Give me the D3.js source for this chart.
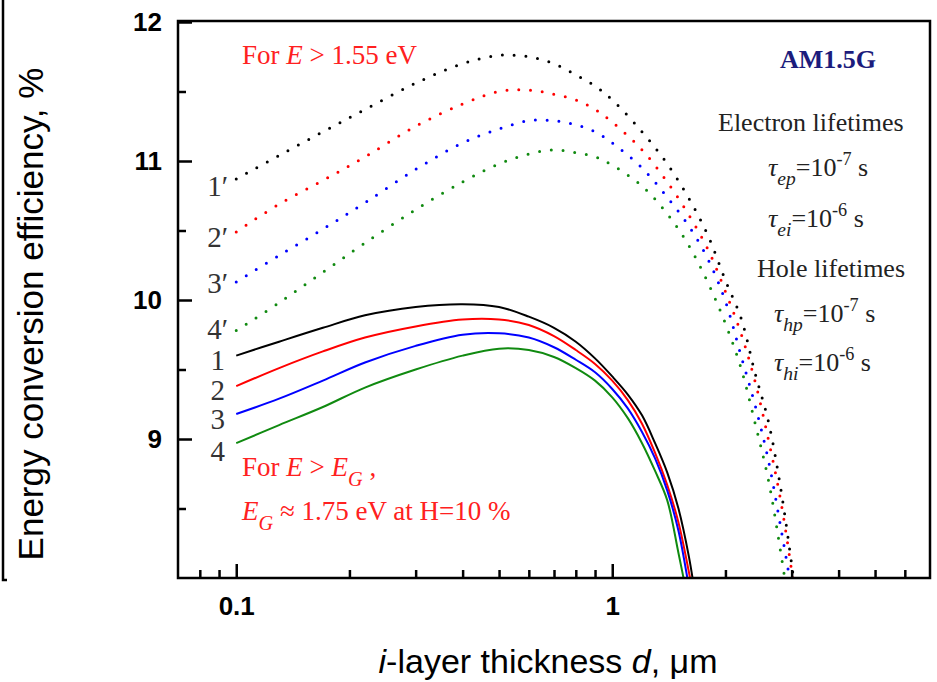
<!DOCTYPE html>
<html><head><meta charset="utf-8">
<script src="https://cdn.jsdelivr.net/npm/d3@7"></script>
<style>body{margin:0;background:#fff} svg{display:block}</style>
</head><body>
<svg id="c" width="937" height="682"></svg>
<script>
// ---------- data ----------
const solidX  = [0.1, 0.13, 0.17, 0.22, 0.3, 0.4, 0.5, 0.6, 0.7, 0.8, 0.9, 1.0, 1.1, 1.2, 1.3, 1.4, 1.5, 1.6, 1.65];
const solid1  = [9.60, 9.70, 9.80, 9.89, 9.95, 9.97, 9.95, 9.88, 9.80, 9.70, 9.58, 9.45, 9.32, 9.17, 8.97, 8.76, 8.50, 8.15, 7.93];
const solid2  = [9.38, 9.51, 9.63, 9.73, 9.81, 9.86, 9.86, 9.82, 9.74, 9.64, 9.54, 9.42, 9.28, 9.11, 8.90, 8.67, 8.40, 8.04, 7.85];
const solid3  = [9.18, 9.29, 9.42, 9.55, 9.67, 9.75, 9.76, 9.73, 9.66, 9.57, 9.48, 9.36, 9.22, 9.05, 8.86, 8.63, 8.34, 7.93, 7.70];
const solid4  = [8.97, 9.10, 9.23, 9.37, 9.50, 9.60, 9.65, 9.64, 9.59, 9.51, 9.42, 9.30, 9.15, 8.97, 8.77, 8.56, 8.18, 7.80, 7.60];

const dottedX = [0.1, 0.13, 0.17, 0.22, 0.3, 0.4, 0.5, 0.6, 0.7, 0.8, 0.9, 1.0, 1.2, 1.4, 1.6, 1.8, 2.0, 2.2, 2.4, 2.6, 2.8, 3.0, 3.1];
const dotted1 = [10.87, 11.04, 11.21, 11.37, 11.56, 11.70, 11.76, 11.75, 11.70, 11.62, 11.54, 11.44, 11.21, 10.98, 10.73, 10.46, 10.14, 9.87, 9.47, 9.13, 8.66, 8.10, 7.80];
const dotted2 = [10.49, 10.69, 10.86, 11.03, 11.25, 11.41, 11.50, 11.51, 11.48, 11.44, 11.37, 11.28, 11.08, 10.85, 10.61, 10.36, 10.06, 9.76, 9.41, 9.00, 8.57, 8.05, 7.75];
const dotted3 = [10.13, 10.32, 10.51, 10.70, 10.94, 11.13, 11.23, 11.29, 11.29, 11.26, 11.21, 11.13, 10.95, 10.74, 10.53, 10.29, 9.99, 9.60, 9.24, 8.85, 8.38, 7.90, 7.60];
const dotted4 = [9.78, 9.98, 10.20, 10.41, 10.65, 10.85, 10.98, 11.05, 11.08, 11.06, 11.03, 10.97, 10.82, 10.62, 10.39, 10.12, 9.83, 9.51, 9.11, 8.71, 8.20, 7.65, 7.30];

const seriesColors = ["#000000", "#ff0000", "#0000ff", "#108a10"];
const solidLabels  = ["1", "2", "3", "4"];
const dottedLabels = ["1\u2032", "2\u2032", "3\u2032", "4\u2032"];

const xMajorTicks = [0.1, 1];
const xMajorLabels = ["0.1", "1"];
const xMinorTicks = [0.08, 0.09, 0.2, 0.3, 0.4, 0.5, 0.6, 0.7, 0.8, 0.9, 2, 3, 4, 5, 6];
const yMajorTicks = [9, 10, 11, 12];
const yMinorTicks = [8.5, 9.5, 10.5, 11.5];

// ---------- layout ----------
const L = 178, R = 930, T = 22, B = 578;
const svg = d3.select("#c");
const x = d3.scaleLog().domain([0.07, 7]).range([L, R]);
const y = d3.scaleLinear().domain([8, 12]).range([B, T]);

const SERIF = "'Liberation Serif','Times New Roman',serif";
const SANS = "'Liberation Sans',Arial,sans-serif";

// left stray border line from the source page
svg.append("path").attr("d", "M3,0 V580 H7").attr("fill", "none").attr("stroke", "#000").attr("stroke-width", 2.5);

svg.append("clipPath").attr("id", "clip").append("rect")
  .attr("x", L).attr("y", T).attr("width", R - L).attr("height", B - T);

const plot = svg.append("g").attr("clip-path", "url(#clip)");
const line = d3.line().x(d => x(d[0])).y(d => y(d[1])).curve(d3.curveCatmullRom.alpha(0.5));

const solids = [solid1, solid2, solid3, solid4];
const dotteds = [dotted1, dotted2, dotted3, dotted4];

dotteds.forEach((s, i) => {
  plot.append("path").datum(dottedX.map((d, j) => [d, s[j]]))
    .attr("d", line).attr("fill", "none").attr("stroke", seriesColors[i])
    .attr("stroke-width", 3).attr("stroke-linecap", "round")
    .attr("stroke-dasharray", "0 11.8");
});
solids.forEach((s, i) => {
  plot.append("path").datum(solidX.map((d, j) => [d, s[j]]))
    .attr("d", line).attr("fill", "none").attr("stroke", seriesColors[i])
    .attr("stroke-width", 2);
});

// ---------- axes ----------
function styleAxis(g) {
  g.select(".domain").remove();
  g.selectAll(".tick line").attr("stroke", "#000").attr("stroke-width", 2.5);
  g.selectAll(".tick text").attr("font-family", SANS).attr("font-weight", "bold")
    .attr("font-size", 26).attr("fill", "#000");
}
svg.append("g").attr("transform", `translate(0,${B})`)
  .call(d3.axisBottom(x).tickValues(xMajorTicks).tickFormat((d, i) => xMajorLabels[i]).tickSize(-14).tickPadding(19))
  .call(styleAxis);
svg.append("g").attr("transform", `translate(0,${B})`)
  .call(d3.axisBottom(x).tickValues(xMinorTicks).tickFormat("").tickSize(-8))
  .call(styleAxis);
svg.append("g").attr("transform", `translate(${L},0)`)
  .call(d3.axisLeft(y).tickValues(yMajorTicks).tickFormat(d3.format("d")).tickSize(-14).tickPadding(16))
  .call(styleAxis);
svg.append("g").attr("transform", `translate(${L},0)`)
  .call(d3.axisLeft(y).tickValues(yMinorTicks).tickFormat("").tickSize(-8))
  .call(styleAxis);

svg.append("rect").attr("x", L).attr("y", T - 1).attr("width", R - L).attr("height", B - T + 1)
  .attr("fill", "none").attr("stroke", "#000").attr("stroke-width", 2.5);

// ---------- rich text helper ----------
function rich(px, py, parts, size, color, family, anchor) {
  const t = svg.append("text").attr("x", px).attr("y", py)
    .attr("font-family", family || SERIF).attr("font-size", size).attr("fill", color)
    .attr("text-anchor", anchor || "start");
  let off = 0;
  parts.forEach(p => {
    const sp = t.append("tspan").text(p.t);
    let target = 0, fs = size;
    if (p.sub) { target = size * 0.36; fs = size * 0.75; }
    if (p.sup) { target = -size * 0.42; fs = size * 0.7; }
    if (target !== off) { sp.attr("dy", target - off); off = target; }
    sp.attr("font-size", fs);
    if (p.i) sp.attr("font-style", "italic");
    if (p.b) sp.attr("font-weight", "bold");
  });
  return t;
}

// axis titles
svg.append("text").attr("transform", "translate(43,314) rotate(-90)")
  .attr("text-anchor", "middle").attr("font-family", SANS).attr("font-size", 35).attr("fill", "#000")
  .text("Energy conversion efficiency, %");
rich(548, 673, [{t: "i", i: 1}, {t: "-layer thickness "}, {t: "d", i: 1}, {t: ", \u03bcm"}], 34, "#000", SANS, "middle");

// annotations
const RED = "#ff2020", GREY = "#222";
rich(242, 64, [{t: "For "}, {t: "E", i: 1}, {t: " > 1.55 eV"}], 27, RED);
rich(242, 476, [{t: "For "}, {t: "E", i: 1}, {t: " > "}, {t: "E", i: 1}, {t: "G", i: 1, sub: 1}, {t: " ,"}], 27, RED);
rich(242, 520, [{t: "E", i: 1}, {t: "G", i: 1, sub: 1}, {t: " \u2248 1.75 eV at H=10 %"}], 27, RED);

rich(780, 68, [{t: "AM1.5G", b: 1}], 26, "#1c1c7c");
rich(718, 131, [{t: "Electron lifetimes"}], 26, GREY);
rich(768, 176, [{t: "\u03c4", i: 1}, {t: "ep", i: 1, sub: 1}, {t: "=10"}, {t: "-7", sup: 1}, {t: " s"}], 26, GREY);
rich(768, 227, [{t: "\u03c4", i: 1}, {t: "ei", i: 1, sub: 1}, {t: "=10"}, {t: "-6", sup: 1}, {t: " s"}], 26, GREY);
rich(757, 277, [{t: "Hole lifetimes"}], 26, GREY);
rich(774, 322, [{t: "\u03c4", i: 1}, {t: "hp", i: 1, sub: 1}, {t: "=10"}, {t: "-7", sup: 1}, {t: " s"}], 26, GREY);
rich(774, 371, [{t: "\u03c4", i: 1}, {t: "hi", i: 1, sub: 1}, {t: "=10"}, {t: "-6", sup: 1}, {t: " s"}], 26, GREY);

// curve labels
const dottedLabelY = [196, 247, 293, 339];
const solidLabelY = [370, 400, 429, 461];
dottedLabels.forEach((s, i) => rich(228, dottedLabelY[i], [{t: s}], 29, "#333", SERIF, "end"));
solidLabels.forEach((s, i) => rich(225, solidLabelY[i], [{t: s}], 29, "#333", SERIF, "end"));
</script>
</body></html>
